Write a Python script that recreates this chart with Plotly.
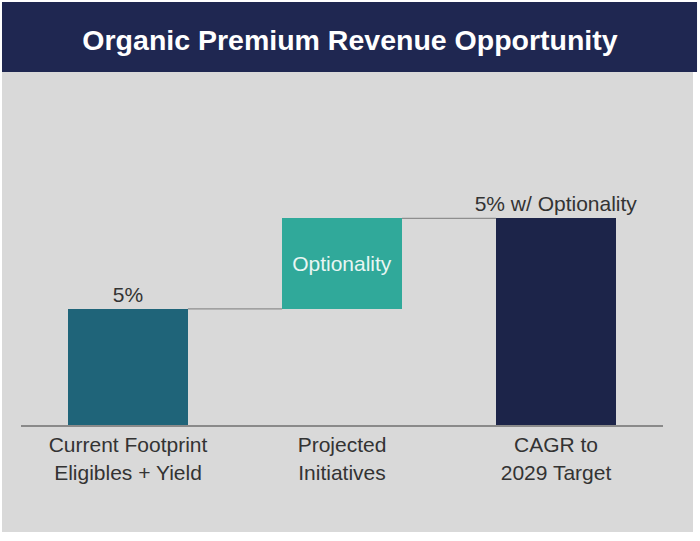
import plotly.graph_objects as go

# datos del grafico
categorias = ["Current Footprint<br>Eligibles + Yield", "Projected<br>Initiatives", "CAGR to<br>2029 Target"]
bases = [0, 5, 0]
alturas = [5, 3.9, 8.9]
etiquetas = ["5%", "Optionality", "5% w/ Optionality"]
titulo = "Organic Premium Revenue Opportunity"

colores = ["#1f6479", "#30a99a", "#1c2449"]
posiciones = ["outside", "inside", "outside"]
ancho = 0.56
x = list(range(len(categorias)))

fig = go.Figure()
fig.add_trace(go.Bar(
    x=x, y=alturas, base=bases, width=ancho,
    marker=dict(color=colores, line=dict(width=0)),
    text=etiquetas, textposition=posiciones,
    insidetextanchor="middle", constraintext="none",
    insidetextfont=dict(color="#e8f6f3", size=21),
    outsidetextfont=dict(color="#333333", size=21),
    cliponaxis=False, hoverinfo="skip",
))

# conectores entre barras
for i in range(len(x) - 1):
    nivel = bases[i] + alturas[i]
    fig.add_trace(go.Scatter(
        x=[x[i] + ancho / 2, x[i + 1] - ancho / 2], y=[nivel, nivel],
        mode="lines", line=dict(color="#8e8e8e", width=1.2),
        hoverinfo="skip", showlegend=False,
    ))

# fondo gris y banda del titulo (coordenadas relativas al area del grafico)
fig.add_shape(type="rect", xref="paper", yref="paper", layer="below",
              x0=-0.0296, x1=1.0467, y0=-0.4367, y1=1.4408,
              fillcolor="#d9d9d9", line=dict(width=0))
fig.add_shape(type="rect", xref="paper", yref="paper", layer="below",
              x0=-0.0296, x1=1.053, y0=1.4408, y1=1.7265,
              fillcolor="#1f2751", line=dict(width=0))

fig.update_layout(
    width=700, height=541,
    margin=dict(l=21, r=37, t=180, b=116),
    paper_bgcolor="white", plot_bgcolor="rgba(0,0,0,0)",
    showlegend=False,
    font=dict(family="Liberation Sans, Arial, sans-serif", color="#333333"),
    title=dict(text="<b>" + titulo + "</b>", x=0.5, xanchor="center",
               y=1 - 40 / 541, yanchor="middle",
               font=dict(size=28.5, color="white")),
    bargap=0,
)
fig.update_xaxes(range=[-0.5, 2.5], tickvals=x, ticktext=categorias,
                 showgrid=False, zeroline=False, showline=True,
                 linecolor="#8a8a8a", linewidth=2, ticks="",
                 tickfont=dict(size=21, color="#333333"), fixedrange=True)
fig.update_yaxes(range=[0, 10.55], visible=False, showgrid=False,
                 zeroline=False, fixedrange=True)

# quitar el margen del body para que el grafico quede pegado a la esquina
fig.write_html("out.html", config={"displayModeBar": False},
               post_script="document.body.style.margin='0';")
